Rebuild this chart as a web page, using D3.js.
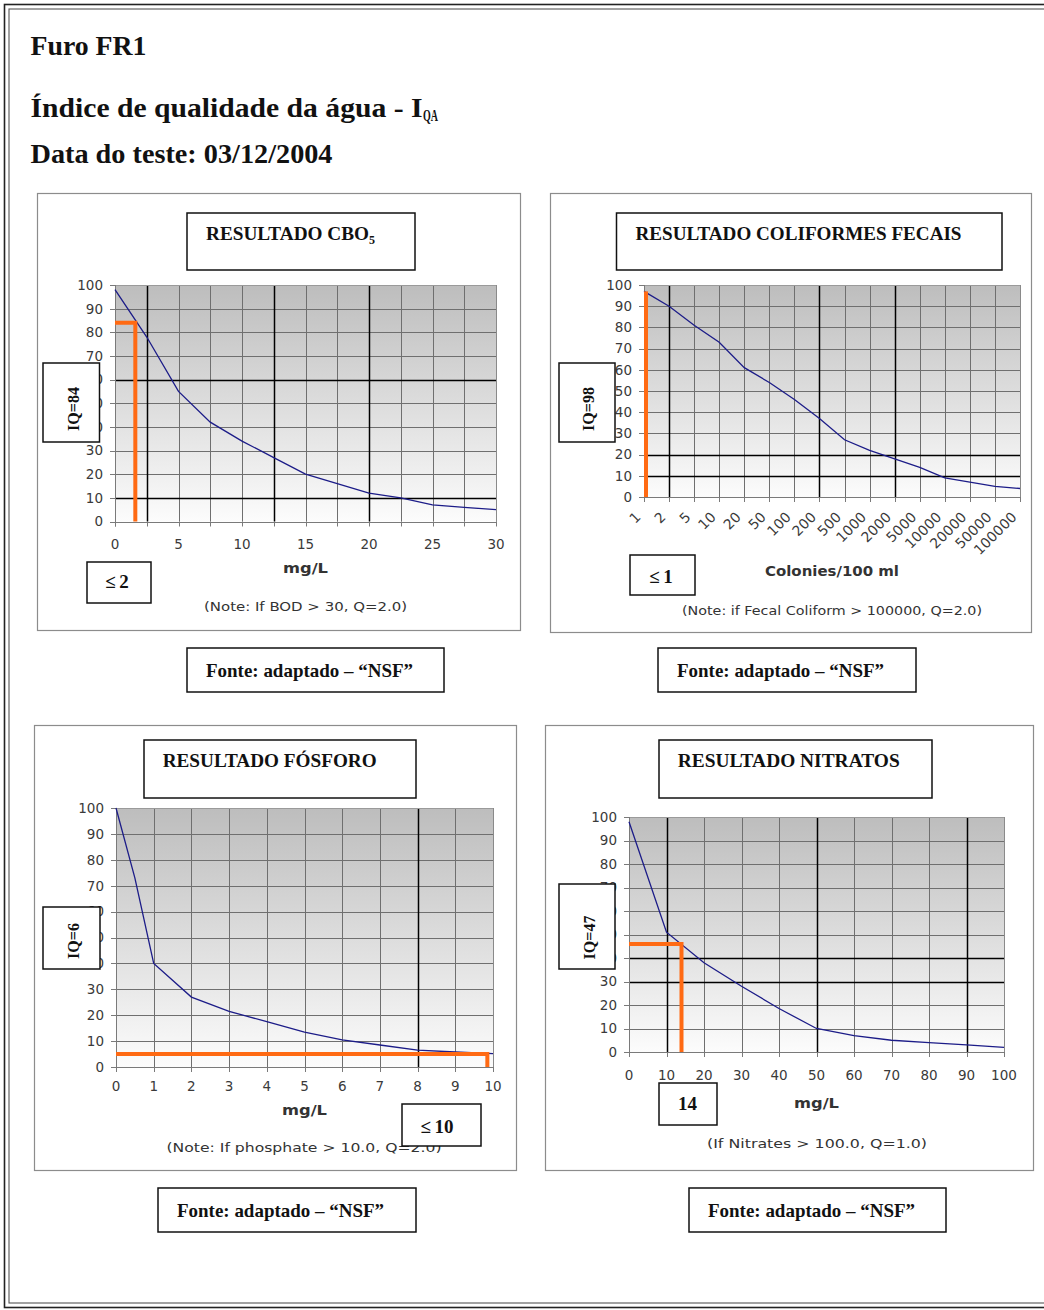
<!DOCTYPE html>
<html><head><meta charset="utf-8">
<script src="https://cdn.jsdelivr.net/npm/d3@7"></script>
<style>html,body{margin:0;padding:0;background:#fff}svg{display:block}</style>
</head><body><svg id="c" width="1044" height="1310"></svg>
<script>
// ---------------- data ----------------
const yTicks = [0,10,20,30,40,50,60,70,80,90,100];

const cboX = [0,2.5,5,7.5,10,12.5,15,17.5,20,22.5,25,27.5,30];
const cboQ = [98,78,55,42,34,27,20,16,12,10,7,6,5];
const cboTicks = [0,5,10,15,20,25,30];
const cboGrid = [0,2.5,5,7.5,10,12.5,15,17.5,20,22.5,25,27.5,30];
const cboDarkX = [2.5,12.5,20];
const cboDarkY = [10,60];
const cboResult = {x:1.6, q:84};

const coliCats = ["1","2","5","10","20","50","100","200","500","1000","2000","5000","10000","20000","50000","100000"];
const coliQ = [97,90,81,73,61,54,46,37,27,22,18,14,9,7,5,4];
const coliDarkX = ["2","200","2000"];
const coliDarkY = [10,20];
const coliResult = {x:"1", q:97};

const fosX = [0,0.5,1,2,3,4,5,6,7,8,9,10];
const fosQ = [100,73,40,27,21.5,17.5,13.5,10.5,8.5,6.5,5.8,5.2];
const fosTicks = [0,1,2,3,4,5,6,7,8,9,10];
const fosDarkX = [8];
const fosDarkY = [];
const fosResult = {x:9.85, q:5};

const nitX = [0,10,20,30,40,50,60,70,80,90,100];
const nitQ = [98,51,38,28,18.5,10,7,5,4,3,2];
const nitTicks = [0,10,20,30,40,50,60,70,80,90,100];
const nitDarkX = [10,50,90];
const nitDarkY = [30,40];
const nitResult = {x:14, q:46};

const titles = ["RESULTADO CBO","RESULTADO COLIFORMES FECAIS","RESULTADO FÓSFORO","RESULTADO NITRATOS"];
const iqLabels = ["IQ=84","IQ=98","IQ=6","IQ=47"];
const valueLabels = ["≤\u20092","≤\u20091","≤\u200910","14"];
const xTitles = ["mg/L","Colonies/100 ml","mg/L","mg/L"];
const notes = ["(Note: If BOD > 30, Q=2.0)","(Note: if Fecal Coliform > 100000, Q=2.0)","(Note: If phosphate > 10.0, Q=2.0)","(If Nitrates > 100.0, Q=1.0)"];
const sourceLabel = "Fonte: adaptado – “NSF”";

// ---------------- drawing ----------------
const svg = d3.select('#c');
const serif = "'Liberation Serif','Times New Roman',Times,serif";
const sans = "'DejaVu Sans',Verdana,sans-serif";
const ORANGE = "#ff6a13";
const px = v => Math.round(v) + 0.5;

const defs = svg.append('defs');
const grad = defs.append('linearGradient').attr('id','bg').attr('x1',0).attr('y1',0).attr('x2',0).attr('y2',1);
grad.append('stop').attr('offset','0%').attr('stop-color','#bdbdbd');
grad.append('stop').attr('offset','100%').attr('stop-color','#fcfcfc');

svg.append('rect').attr('width',1044).attr('height',1310).attr('fill','#fff');

// page border (double line)
svg.append('rect').attr('x',4.5).attr('y',4.5).attr('width',1100).attr('height',1303)
  .attr('fill','none').attr('stroke','#222').attr('stroke-width',1.6);
svg.append('rect').attr('x',9).attr('y',9).attr('width',1100).attr('height',1294)
  .attr('fill','none').attr('stroke','#555').attr('stroke-width',1.1);

// header
svg.append('text').attr('x',30.5).attr('y',55).attr('font-family',serif).attr('font-weight','bold')
  .attr('font-size',28).attr('fill','#111').attr('textLength',116).attr('lengthAdjust','spacingAndGlyphs').text('Furo FR1');
svg.append('text').attr('x',30.5).attr('y',117).attr('font-family',serif).attr('font-weight','bold')
  .attr('font-size',28).attr('fill','#111').attr('textLength',392).attr('lengthAdjust','spacingAndGlyphs').text('Índice de qualidade da água - I');
svg.append('text').attr('x',423).attr('y',121).attr('font-family',serif).attr('font-weight','bold')
  .attr('font-size',17).attr('fill','#111').attr('textLength',15).attr('lengthAdjust','spacingAndGlyphs').text('QA');
svg.append('text').attr('x',30.5).attr('y',163).attr('font-family',serif).attr('font-weight','bold')
  .attr('font-size',28).attr('fill','#111').attr('textLength',302).attr('lengthAdjust','spacingAndGlyphs').text('Data do teste: 03/12/2004');

function box(g, x0, y0, x1, y1, sw, stroke) {
  g.append('rect').attr('x',x0).attr('y',y0).attr('width',x1-x0).attr('height',y1-y0)
    .attr('fill','#fff').attr('stroke',stroke||'#111').attr('stroke-width',sw||1.5);
}

function chart(o) {
  const g = svg.append('g');
  // outer frame
  g.append('rect').attr('x',o.frame[0]+.5).attr('y',o.frame[1]+.5)
    .attr('width',o.frame[2]-o.frame[0]).attr('height',o.frame[3]-o.frame[1])
    .attr('fill','#fff').attr('stroke','#8c8c8c').attr('stroke-width',1.2);
  const [px0,py0,px1,py1] = o.plot;
  const x = o.x;
  const y = d3.scaleLinear().domain([0,100]).range([py1,py0]);

  g.append('rect').attr('x',px0).attr('y',py0).attr('width',px1-px0).attr('height',py1-py0).attr('fill','url(#bg)');

  const gl = g.append('g');
  // light grid
  o.xGrid.forEach(v => gl.append('line').attr('x1',px(x(v))).attr('x2',px(x(v))).attr('y1',py0).attr('y2',py1)
    .attr('stroke','#6f6f6f').attr('stroke-width',1));
  yTicks.forEach(v => gl.append('line').attr('x1',px0).attr('x2',px1).attr('y1',px(y(v))).attr('y2',px(y(v)))
    .attr('stroke','#6f6f6f').attr('stroke-width',1));
  // dark grid
  o.darkX.forEach(v => gl.append('line').attr('x1',px(x(v))).attr('x2',px(x(v))).attr('y1',py0).attr('y2',py1)
    .attr('stroke','#000').attr('stroke-width',1.5));
  o.darkY.forEach(v => gl.append('line').attr('x1',px0).attr('x2',px1).attr('y1',px(y(v))).attr('y2',px(y(v)))
    .attr('stroke','#000').attr('stroke-width',1.5));
  // plot border (right/top)
  gl.append('line').attr('x1',px(px1)).attr('x2',px(px1)).attr('y1',py0).attr('y2',py1).attr('stroke','#8a8a8a');
  gl.append('line').attr('x1',px0).attr('x2',px1).attr('y1',px(py0)).attr('y2',px(py0)).attr('stroke','#9a9a9a');
  // axes
  gl.append('line').attr('x1',px(px0)).attr('x2',px(px0)).attr('y1',py0).attr('y2',py1+5).attr('stroke','#7a7a7a');
  gl.append('line').attr('x1',px0-5).attr('x2',px1).attr('y1',px(py1)).attr('y2',px(py1)).attr('stroke','#7a7a7a');
  yTicks.forEach(v => gl.append('line').attr('x1',px0-5).attr('x2',px0).attr('y1',px(y(v))).attr('y2',px(y(v))).attr('stroke','#7a7a7a'));
  o.xGrid.forEach(v => gl.append('line').attr('x1',px(x(v))).attr('x2',px(x(v))).attr('y1',py1).attr('y2',py1+5).attr('stroke','#7a7a7a'));

  // y tick labels
  yTicks.forEach(v => g.append('text').attr('x',px0-12).attr('y',y(v)).attr('dy','0.36em')
    .attr('text-anchor','end').attr('font-family',sans).attr('font-size',13.5).attr('fill','#3a3a3a').text(v));
  // x tick labels
  if (o.rotated) {
    o.xTicks.forEach(v => g.append('text')
      .attr('transform',`translate(${x(v)-2.5},${py1+21}) rotate(-45)`)
      .attr('text-anchor','end').attr('font-family',sans).attr('font-size',14).attr('fill','#3a3a3a').text(v));
  } else {
    o.xTicks.forEach(v => g.append('text').attr('x',x(v)).attr('y',py1+o.xLabelDy)
      .attr('text-anchor','middle').attr('font-family',sans).attr('font-size',13.5).attr('fill','#3a3a3a').text(v));
  }

  // curve
  g.append('path').datum(o.xs.map((d,i)=>[d,o.qs[i]]))
    .attr('d', d3.line().x(d=>x(d[0])).y(d=>y(d[1])))
    .attr('fill','none').attr('stroke','#1c1c88').attr('stroke-width',1.3);

  // result indicator
  const rx = x(o.result.x) + (o.resultShift||0), ry = y(o.result.q);
  const p = o.resultH ? `M${px0},${ry}H${rx}V${py1}` : `M${rx},${ry}V${py1}`;
  g.append('path').attr('d',p).attr('fill','none').attr('stroke',ORANGE).attr('stroke-width',4)
    .attr('stroke-linejoin','miter');

  // axis title & note
  g.append('text').attr('x',(px0+px1)/2).attr('y',o.xTitleY).attr('text-anchor','middle')
    .attr('font-family',sans).attr('font-weight','bold').attr('font-size',13.5).attr('fill','#333')
    .attr('textLength',o.xTitleW).attr('lengthAdjust','spacingAndGlyphs').text(o.xTitle);
  g.append('text').attr('x',o.noteX).attr('y',o.noteY).attr('text-anchor','middle')
    .attr('font-family',sans).attr('font-size',13).attr('fill','#333')
    .attr('textLength',o.noteW).attr('lengthAdjust','spacingAndGlyphs').text(o.note);

  // title box
  const tb = o.titleBox;
  box(g, tb[0], tb[1], tb[2], tb[3], 1.5);
  const tt = g.append('text').attr('x',o.titleX).attr('y',o.titleY).attr('font-family',serif)
    .attr('font-weight','bold').attr('font-size',19).attr('fill','#111');
  tt.append('tspan').attr('textLength',o.titleW).attr('lengthAdjust','spacingAndGlyphs').text(o.title);
  if (o.titleSub) tt.append('tspan').attr('font-size',12).attr('dy',4).text(o.titleSub);

  // IQ box
  const ib = o.iqBox;
  box(g, ib[0], ib[1], ib[2], ib[3], 1.5);
  g.append('text').attr('transform',`translate(${o.iqText[0]},${o.iqText[1]}) rotate(-90)`)
    .attr('text-anchor','middle').attr('font-family',serif).attr('font-weight','bold')
    .attr('font-size',16).attr('fill','#111').text(o.iq);

  // value box
  const vb = o.valBox;
  box(g, vb[0], vb[1], vb[2], vb[3], 1.5);
  g.append('text').attr('x',o.valText[0]).attr('y',o.valText[1]).attr('text-anchor','middle')
    .attr('font-family',serif).attr('font-weight','bold').attr('font-size',19).attr('fill','#111').text(o.val);

  // source box
  const sb = o.srcBox;
  box(g, sb[0], sb[1], sb[2], sb[3], 1.5);
  g.append('text').attr('x',sb[0]+19).attr('y',sb[1]+29)
    .attr('font-family',serif).attr('font-weight','bold').attr('font-size',19).attr('fill','#111')
    .attr('textLength',207).attr('lengthAdjust','spacingAndGlyphs').text(sourceLabel);
}

// Chart 1: CBO5
chart({
  frame:[37,193,520,630], plot:[115,285,496,521.5],
  x: d3.scaleLinear().domain([0,30]).range([115,496]),
  xGrid: cboGrid, darkX: cboDarkX, darkY: cboDarkY, xTicks: cboTicks, xLabelDy: 27,
  xs: cboX, qs: cboQ, result: cboResult, resultH: true,
  xTitle: xTitles[0], xTitleY: 573, xTitleW: 45,
  note: notes[0], noteX: 305.5, noteY: 611, noteW: 203,
  titleBox:[187,213,415,270], title: titles[0], titleSub: "5", titleX: 206, titleY: 240, titleW: 163,
  iqBox:[43,363,99.5,442], iq: iqLabels[0], iqText:[79,409],
  valBox:[87,562,151,603], val: valueLabels[0], valText:[117,588],
  srcBox:[187,648,444,692]
});

// Chart 2: Coliformes fecais
chart({
  frame:[550,193,1031,632], plot:[644,285,1020,497],
  x: d3.scalePoint().domain(coliCats).range([644,1020]),
  xGrid: coliCats, darkX: coliDarkX, darkY: coliDarkY, xTicks: coliCats, rotated: true,
  xs: coliCats, qs: coliQ, result: coliResult, resultH: false, resultShift: 2,
  xTitle: xTitles[1], xTitleY: 576, xTitleW: 134,
  note: notes[1], noteX: 832, noteY: 615, noteW: 300,
  titleBox:[616.5,213,1002,270], title: titles[1], titleX: 635.5, titleY: 240, titleW: 326,
  iqBox:[559,363,615,442], iq: iqLabels[1], iqText:[594,409],
  valBox:[630,555,695,595], val: valueLabels[1], valText:[661,582.5],
  srcBox:[658,648,916,692]
});

// Chart 3: Fósforo
chart({
  frame:[34,725,516,1170], plot:[116,808,493,1067],
  x: d3.scaleLinear().domain([0,10]).range([116,493]),
  xGrid: fosTicks, darkX: fosDarkX, darkY: fosDarkY, xTicks: fosTicks, xLabelDy: 24,
  xs: fosX, qs: fosQ, result: fosResult, resultH: true,
  xTitle: xTitles[2], xTitleY: 1115, xTitleW: 45,
  note: notes[2], noteX: 304, noteY: 1152, noteW: 275,
  titleBox:[144,740,416,798], title: titles[2], titleX: 162.7, titleY: 767, titleW: 214,
  iqBox:[43,907,100,969], iq: iqLabels[2], iqText:[79,941],
  valBox:[402,1104,481,1146], val: valueLabels[2], valText:[437,1133],
  srcBox:[158,1188,416,1232]
});

// Chart 4: Nitratos
chart({
  frame:[545,725,1033,1170], plot:[629,817,1004,1052],
  x: d3.scaleLinear().domain([0,100]).range([629,1004]),
  xGrid: nitTicks, darkX: nitDarkX, darkY: nitDarkY, xTicks: nitTicks, xLabelDy: 28,
  xs: nitX, qs: nitQ, result: nitResult, resultH: true,
  xTitle: xTitles[3], xTitleY: 1108, xTitleW: 45,
  note: notes[3], noteX: 817, noteY: 1148, noteW: 220,
  titleBox:[659,740,932,798], title: titles[3], titleX: 677.7, titleY: 767, titleW: 222,
  iqBox:[559,884,615,969], iq: iqLabels[3], iqText:[595,937.5],
  valBox:[659,1083,717,1125], val: valueLabels[3], valText:[687.5,1110],
  srcBox:[689,1188,946,1232]
});
</script>
</body></html>
